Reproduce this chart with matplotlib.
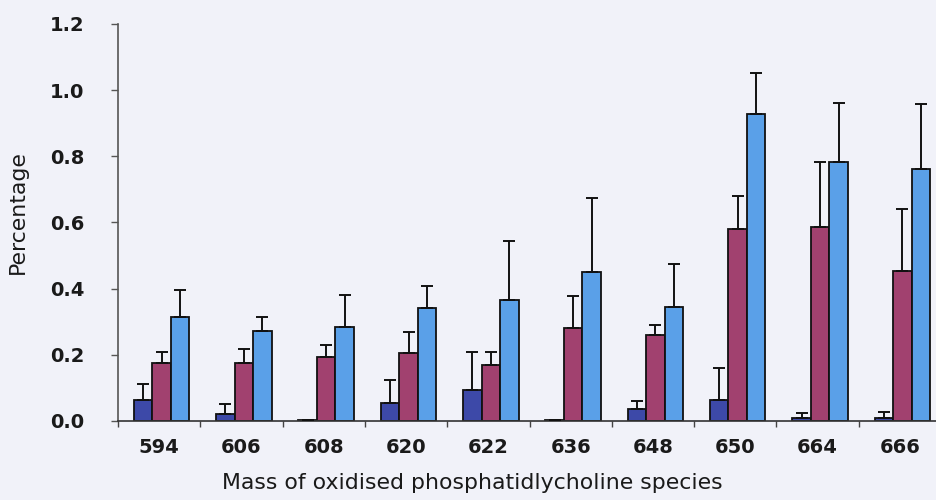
import numpy as np
import matplotlib
matplotlib.use("Agg")
import matplotlib.pyplot as plt

plt.rcParams['font.family'] = ['DejaVu Sans']

# Oxidised PC species (m/z) and mean percentages for the three groups
species = ["594", "606", "608", "620", "622", "636", "648", "650", "664", "666"]

group1 = [0.063, 0.020, 0.003, 0.055, 0.094, 0.002, 0.036, 0.063, 0.008, 0.008]
group1_err = [0.049, 0.030, 0.000, 0.069, 0.115, 0.000, 0.024, 0.097, 0.016, 0.019]

group2 = [0.175, 0.175, 0.193, 0.205, 0.169, 0.281, 0.260, 0.580, 0.586, 0.453]
group2_err = [0.035, 0.042, 0.037, 0.065, 0.041, 0.097, 0.030, 0.100, 0.197, 0.187]

group3 = [0.315, 0.272, 0.284, 0.341, 0.366, 0.450, 0.344, 0.928, 0.783, 0.761]
group3_err = [0.081, 0.043, 0.096, 0.067, 0.178, 0.223, 0.130, 0.124, 0.178, 0.197]

yticks = [0.0, 0.2, 0.4, 0.6, 0.8, 1.0, 1.2]

colors = ["#3d49a8", "#a1416f", "#5aa0e8"]
bg = "#f1f2f9"
ink = "#1a1a1a"

fig = plt.figure(figsize=(9.36, 5.0), dpi=100, facecolor=bg)
# axes runs slightly past the right edge of the figure
ax = fig.add_axes([118 / 936, 79 / 500, 823 / 936, 397 / 500])
ax.set_facecolor(bg)

x = np.arange(len(species))
w = 0.225
series = [(group1, group1_err), (group2, group2_err), (group3, group3_err)]
for i, (vals, errs) in enumerate(series):
    pos = x + (i - 1) * w + 0.03
    ax.bar(pos, vals, width=w, color=colors[i], edgecolor="#111111",
           linewidth=1.3, zorder=2)
    ax.errorbar(pos, vals, yerr=[np.zeros(len(errs)), errs], fmt="none",
                ecolor="#111111", elinewidth=1.4, capsize=4.5, capthick=1.4,
                zorder=3)

ax.set_xlim(-0.5, len(species) - 0.5)
ax.set_ylim(0, 1.2)
ax.set_yticks(yticks)
ax.set_yticklabels([f"{t:.1f}" for t in yticks])
ax.set_xticks(x)
ax.set_xticklabels(species)
ax.set_xticks(np.arange(-0.5, len(species), 1.0), minor=True)
ax.tick_params(axis="x", which="major", length=0, pad=12, labelsize=14)
ax.tick_params(axis="x", which="minor", length=4, width=1, color="#444444")
ax.tick_params(axis="y", length=5, width=1, color="#555555", pad=19,
               labelsize=14)
for lab in ax.get_xticklabels() + ax.get_yticklabels():
    lab.set_fontweight("bold")
    lab.set_color(ink)

for s in ["top", "right"]:
    ax.spines[s].set_visible(False)
ax.spines["left"].set_color("#555555")
ax.spines["bottom"].set_color("#333333")
ax.spines["left"].set_linewidth(1.2)
ax.spines["bottom"].set_linewidth(1.2)

fig.text(472 / 936, 1 - 483 / 500, "Mass of oxidised phosphatidlycholine species",
         ha="center", va="center", fontsize=15.8, color=ink)
fig.text(18 / 936, 1 - 212 / 500, "Percentage", rotation=90, ha="center",
         va="center", fontsize=15.8, color=ink)

fig.savefig("out.png", dpi=100, facecolor=bg)
